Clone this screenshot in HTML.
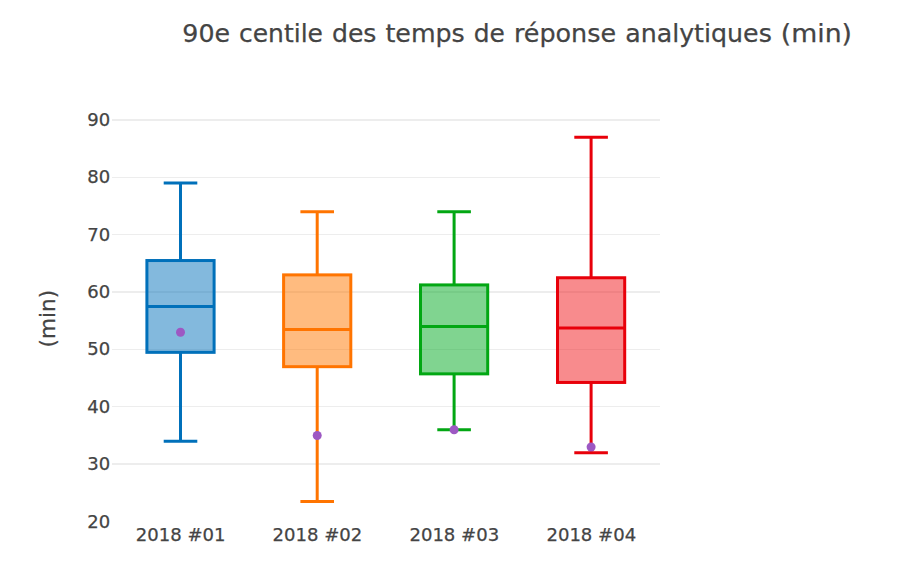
<!DOCTYPE html>
<html lang="fr">
<head>
<meta charset="utf-8">
<title>90e centile des temps de réponse analytiques (min)</title>
<style>
html,body{margin:0;padding:0;background:#fff;}
body{width:899px;height:583px;overflow:hidden;}
svg{display:block;}
text{font-family:"DejaVu Sans", Verdana, "Liberation Sans", sans-serif;fill:#444444;white-space:pre;}
</style>
</head>
<body>
<svg width="899" height="583" viewBox="0 0 899 583">
<rect x="0" y="0" width="899" height="583" fill="#ffffff"/>
<g fill="#ededed" shape-rendering="crispEdges">
<rect x="112" y="119" width="548" height="2"/>
<rect x="112" y="177" width="548" height="1"/>
<rect x="112" y="234" width="548" height="1"/>
<rect x="112" y="291" width="548" height="2"/>
<rect x="112" y="349" width="548" height="1"/>
<rect x="112" y="406" width="548" height="1"/>
<rect x="112" y="463" width="548" height="2"/>
</g>
<g stroke="#0070BA" stroke-width="3.00" fill="none">
<rect x="146.90" y="260.53" width="67.20" height="91.81" fill="#0773BB" fill-opacity="0.5"/>
<path d="M146.90,306.44H214.10 M180.50,260.53V183.07 M180.50,352.34V441.28 M163.70,183.07H197.30 M163.70,441.28H197.30"/>
</g>
<g stroke="#FF7400" stroke-width="3.00" fill="none">
<rect x="283.60" y="274.88" width="67.20" height="91.80" fill="#FF7700" fill-opacity="0.5"/>
<path d="M283.60,329.39H350.80 M317.20,274.88V211.76 M317.20,366.68V501.53 M300.40,211.76H334.00 M300.40,501.53H334.00"/>
</g>
<g stroke="#02A713" stroke-width="3.00" fill="none">
<rect x="420.50" y="284.92" width="67.20" height="88.94" fill="#01A921" fill-opacity="0.5"/>
<path d="M420.50,326.52H487.70 M454.10,284.92V211.76 M454.10,373.86V429.80 M437.30,211.76H470.90 M437.30,429.80H470.90"/>
</g>
<g stroke="#E8000A" stroke-width="3.00" fill="none">
<rect x="557.50" y="277.75" width="67.20" height="104.71" fill="#F1171B" fill-opacity="0.5"/>
<path d="M557.50,327.95H624.70 M591.10,277.75V137.16 M591.10,382.46V452.75 M574.30,137.16H607.90 M574.30,452.75H607.90"/>
</g>
<circle cx="180.50" cy="332.26" r="4.50" fill="#9D58C3"/>
<circle cx="317.20" cy="435.54" r="4.50" fill="#9D58C3"/>
<circle cx="454.10" cy="429.80" r="4.50" fill="#9D58C3"/>
<circle cx="591.10" cy="447.02" r="4.50" fill="#9D58C3"/>
<g font-size="18" text-anchor="end" stroke="#444444" stroke-width="0.25">
<text x="110.1" y="527.56">20</text>
<text x="110.1" y="470.18">30</text>
<text x="110.1" y="412.80">40</text>
<text x="110.1" y="355.42">50</text>
<text x="110.1" y="298.04">60</text>
<text x="110.1" y="240.66">70</text>
<text x="110.1" y="183.28">80</text>
<text x="110.1" y="125.90">90</text>
</g>
<g font-size="18" text-anchor="middle" stroke="#444444" stroke-width="0.25">
<text x="180.70" y="541.1" textLength="89.75" lengthAdjust="spacingAndGlyphs">2018 #01</text>
<text x="317.40" y="541.1" textLength="89.75" lengthAdjust="spacingAndGlyphs">2018 #02</text>
<text x="454.30" y="541.1" textLength="89.75" lengthAdjust="spacingAndGlyphs">2018 #03</text>
<text x="591.30" y="541.1" textLength="89.75" lengthAdjust="spacingAndGlyphs">2018 #04</text>
</g>
<text font-size="21" text-anchor="middle" stroke="#444444" stroke-width="0.25" transform="translate(54.9,318.7) rotate(-90)" textLength="57.55" lengthAdjust="spacingAndGlyphs">(min)</text>
<text font-size="25.5" y="41.5" stroke="#444444" stroke-width="0.25"><tspan x="182.30" textLength="47.71" lengthAdjust="spacingAndGlyphs">90e</tspan> <tspan x="239.01" textLength="83.99" lengthAdjust="spacingAndGlyphs">centile</tspan> <tspan x="331.98" textLength="44.45" lengthAdjust="spacingAndGlyphs">des</tspan> <tspan x="385.42" textLength="79.36" lengthAdjust="spacingAndGlyphs">temps</tspan> <tspan x="473.78" textLength="31.14" lengthAdjust="spacingAndGlyphs">de</tspan> <tspan x="513.90" textLength="102.25" lengthAdjust="spacingAndGlyphs">réponse</tspan> <tspan x="625.15" textLength="146.67" lengthAdjust="spacingAndGlyphs">analytiques</tspan> <tspan x="780.81" textLength="71.21" lengthAdjust="spacingAndGlyphs">(min)</tspan></text>
</svg>
</body>
</html>
